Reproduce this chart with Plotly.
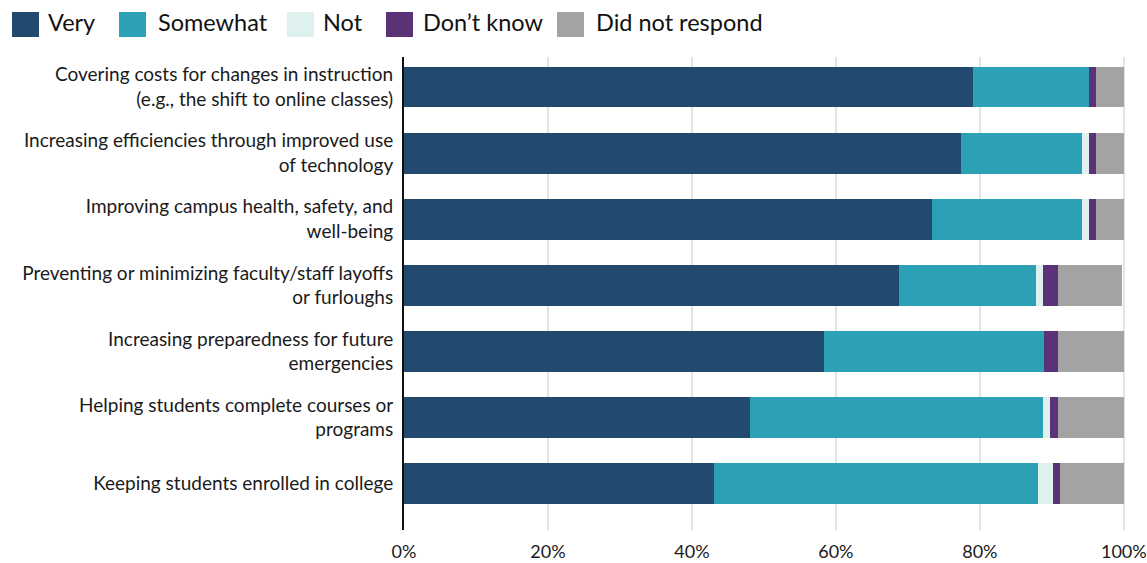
import plotly.graph_objects as go

# Survey items (top to bottom) and response shares in percent
categories = [
    "Covering costs for changes in instruction<br>(e.g., the shift to online classes)",
    "Increasing efficiencies through improved use<br>of technology",
    "Improving campus health, safety, and<br>well-being",
    "Preventing or minimizing faculty/staff layoffs<br>or furloughs",
    "Increasing preparedness for future<br>emergencies",
    "Helping students complete courses or<br>programs",
    "Keeping students enrolled in college",
]
very = [79.1, 77.4, 73.4, 68.8, 58.4, 48.0, 43.1]
somewhat = [16.0, 16.8, 20.8, 19.0, 30.5, 40.8, 45.0]
not_imp = [0.0, 0.9, 0.9, 1.0, 0.0, 0.9, 2.1]
dont_know = [1.0, 1.0, 1.0, 2.0, 1.9, 1.1, 0.9]
no_response = [3.9, 3.9, 3.9, 8.9, 9.2, 9.2, 8.9]

series_names = ["Very", "Somewhat", "Not", "Don\u2019t know", "Did not respond"]
series_values = [very, somewhat, not_imp, dont_know, no_response]
series_colors = ["#22496e", "#2ca1b5", "#dff1ef", "#5a3275", "#a3a3a3"]

x_ticks = [0, 20, 40, 60, 80, 100]
x_tick_text = ["0%", "20%", "40%", "60%", "80%", "100%"]

FONT = "Lato, 'Open Sans', sans-serif"
W, H = 1147, 563
ML, MR, MT, MB = 404, 21, 57, 33

fig = go.Figure()
for name, vals, color in zip(series_names, series_values, series_colors):
    fig.add_trace(go.Bar(
        y=categories, x=vals, name=name, orientation="h",
        marker=dict(color=color, line=dict(width=0)),
        showlegend=False,
        hovertemplate="%{y}<br>" + name + ": %{x:.0f}%<extra></extra>",
    ))

# Custom legend row above the plot (swatches as shapes, labels as annotations)
def px_x(p):
    return (p - ML) / (W - ML - MR)

def px_y(p):
    return 1 - (p - MT) / (H - MT - MB)

swatch_left = [12, 119, 287, 386, 557]
text_left = [46, 156, 321, 421, 594]
shapes = []
annotations = []
for name, color, sx, tx in zip(series_names, series_colors, swatch_left, text_left):
    shapes.append(dict(
        type="rect", xref="paper", yref="paper",
        x0=px_x(sx), x1=px_x(sx + 27), y0=px_y(37), y1=px_y(12),
        fillcolor=color, line=dict(width=0),
    ))
    annotations.append(dict(
        xref="paper", yref="paper", x=px_x(tx), y=px_y(22.5),
        xanchor="left", yanchor="middle", showarrow=False,
        text=name, font=dict(family=FONT, size=23.5, color="#111111"),
    ))

fig.update_layout(
    width=W, height=H,
    margin=dict(l=ML, r=MR, t=MT, b=MB, pad=0, autoexpand=False),
    barmode="stack", bargap=0.38,
    plot_bgcolor="white", paper_bgcolor="white",
    font=dict(family=FONT, color="#1a1a1a"),
    shapes=shapes, annotations=annotations,
    showlegend=False,
)
fig.update_xaxes(
    range=[0, 100.3], tickvals=x_ticks, ticktext=x_tick_text,
    showgrid=True, gridcolor="#e3e3e3", gridwidth=1.5,
    zeroline=False, showline=False, automargin=False,
    tickfont=dict(family=FONT, size=18, color="#1a1a1a"),
    ticks="", ticklabelstandoff=9, ticklabeloverflow="allow",
)
fig.update_yaxes(
    type="category", categoryorder="array", categoryarray=categories,
    range=[6.704, -0.454], automargin=False,
    showgrid=False, zeroline=False,
    showline=True, linecolor="#111111", linewidth=2,
    tickfont=dict(family=FONT, size=19, color="#1a1a1a"),
    ticks="", ticklabelstandoff=5,
)

fig.write_html("out.html")
